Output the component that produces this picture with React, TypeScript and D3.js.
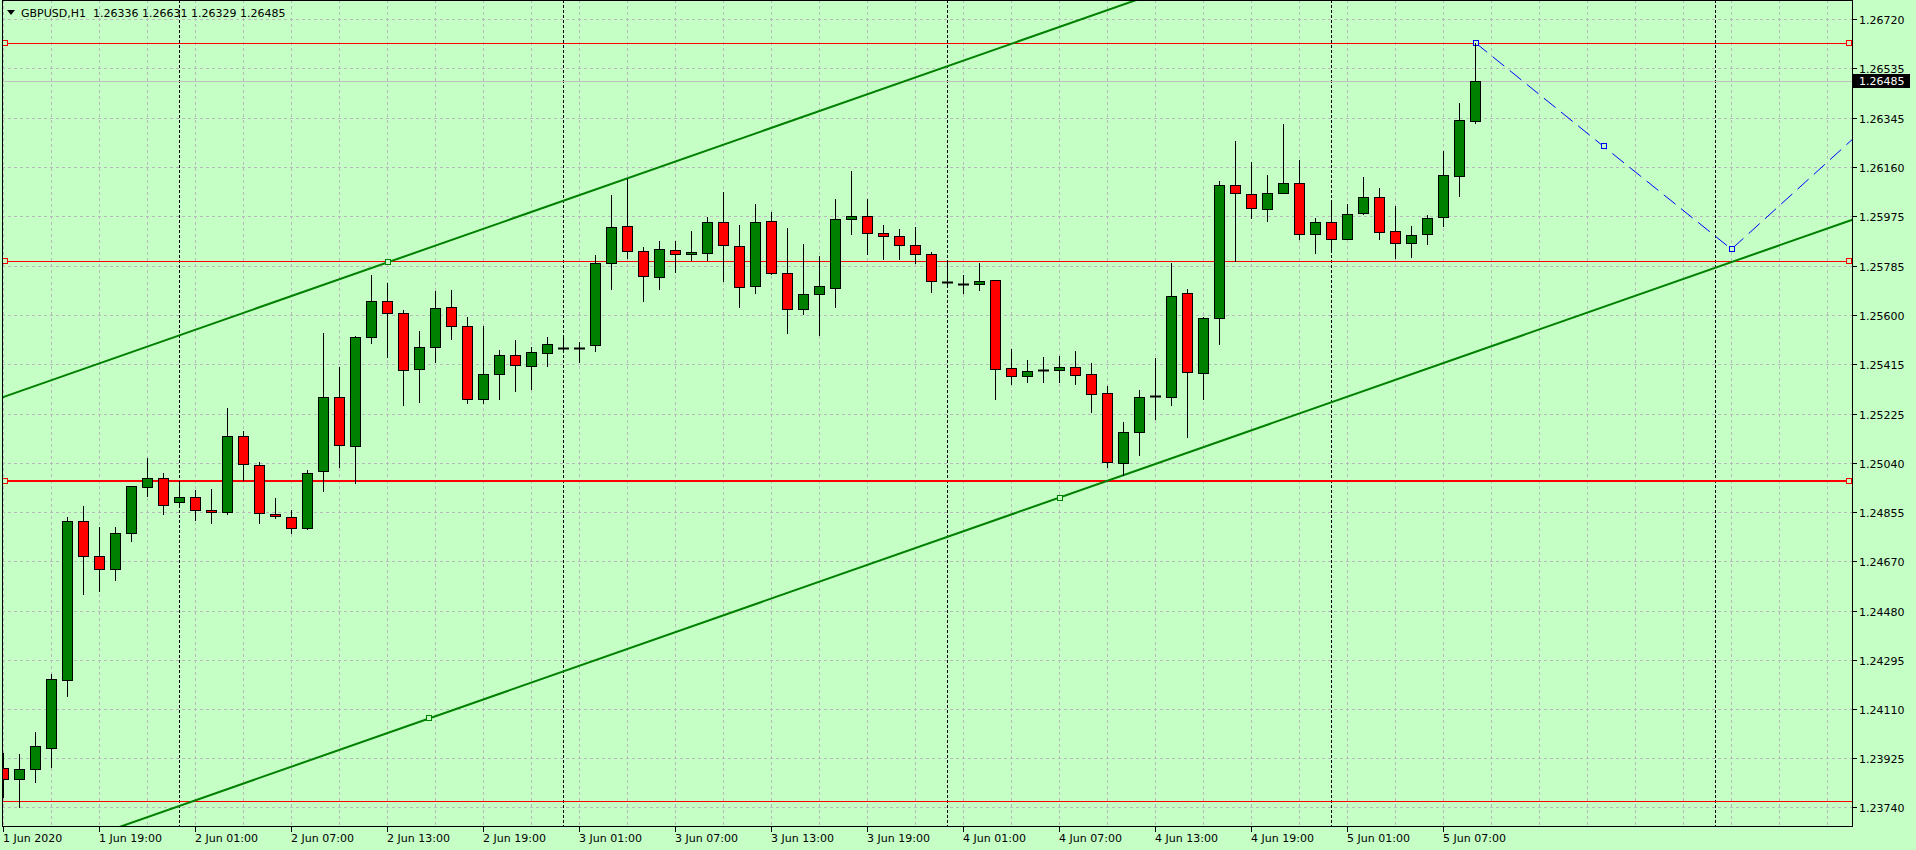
import React, { useEffect } from 'react';
import * as d3 from 'd3';

// ---------- data ----------
const barOpen = [
  1.23885, 1.23844, 1.23882, 1.23961, 1.24218, 1.24821, 1.24688, 1.24638, 1.24775, 1.24949,
  1.24983, 1.24892, 1.24911, 1.24862, 1.24854, 1.25142, 1.25032, 1.24847, 1.24835, 1.24794,
  1.25009, 1.25289, 1.25104, 1.25516, 1.25653, 1.25607, 1.25395, 1.25479, 1.25630, 1.25558,
  1.25282, 1.25376, 1.25448, 1.25407, 1.25456, 1.25476, 1.25477, 1.25486, 1.25797, 1.25937,
  1.25842, 1.25744, 1.25846, 1.25831, 1.25834, 1.25952, 1.25861, 1.25710, 1.25956, 1.25759,
  1.25622, 1.25679, 1.25702, 1.25963, 1.25974, 1.25910, 1.25899, 1.25865, 1.25831, 1.25726,
  1.25719, 1.25717, 1.25732, 1.25399, 1.25369, 1.25392, 1.25392, 1.25403, 1.25376, 1.25305,
  1.25040, 1.25157, 1.25293, 1.25289, 1.25683, 1.25380, 1.25588, 1.26092, 1.26058, 1.26001,
  1.26061, 1.26099, 1.25906, 1.25952, 1.25887, 1.25986, 1.26046, 1.25918, 1.25872, 1.25906,
  1.25971, 1.26126, 1.26336,
];
const barHigh = [
  1.23942, 1.23939, 1.24023, 1.24241, 1.24835, 1.24878, 1.24799, 1.24799, 1.24955, 1.25060,
  1.25003, 1.24973, 1.24939, 1.24942, 1.25249, 1.25162, 1.25043, 1.24907, 1.24862, 1.25013,
  1.25533, 1.25403, 1.25521, 1.25752, 1.25722, 1.25620, 1.25540, 1.25692, 1.25696, 1.25592,
  1.25558, 1.25467, 1.25505, 1.25479, 1.25516, 1.25518, 1.25498, 1.25827, 1.26055, 1.26114,
  1.25857, 1.25880, 1.25880, 1.25918, 1.25971, 1.26065, 1.25940, 1.26020, 1.25990, 1.25929,
  1.25868, 1.25823, 1.26039, 1.26145, 1.26039, 1.25940, 1.25925, 1.25933, 1.25838, 1.25808,
  1.25752, 1.25798, 1.25732, 1.25472, 1.25431, 1.25442, 1.25446, 1.25465, 1.25419, 1.25331,
  1.25196, 1.25317, 1.25438, 1.25798, 1.25698, 1.25592, 1.26107, 1.26259, 1.26179, 1.26130,
  1.26323, 1.26186, 1.25967, 1.26035, 1.26020, 1.26122, 1.26080, 1.26012, 1.25937, 1.25978,
  1.26220, 1.26402, 1.26631,
];
const barLow = [
  1.23778, 1.23740, 1.23835, 1.23891, 1.24160, 1.24546, 1.24556, 1.24599, 1.24747, 1.24917,
  1.24849, 1.24882, 1.24825, 1.24815, 1.24847, 1.24976, 1.24812, 1.24831, 1.24774, 1.24790,
  1.24936, 1.25027, 1.24966, 1.25496, 1.25442, 1.25261, 1.25273, 1.25424, 1.25511, 1.25267,
  1.25267, 1.25282, 1.25312, 1.25320, 1.25407, 1.25468, 1.25424, 1.25466, 1.25700, 1.25818,
  1.25655, 1.25698, 1.25764, 1.25808, 1.25808, 1.25731, 1.25630, 1.25685, 1.25755, 1.25532,
  1.25604, 1.25524, 1.25630, 1.25906, 1.25831, 1.25812, 1.25812, 1.25797, 1.25687, 1.25711,
  1.25683, 1.25694, 1.25284, 1.25341, 1.25348, 1.25348, 1.25348, 1.25341, 1.25235, 1.25027,
  1.24994, 1.25072, 1.25206, 1.25261, 1.25138, 1.25284, 1.25490, 1.25805, 1.25969, 1.25956,
  1.26061, 1.25890, 1.25837, 1.25844, 1.25887, 1.25982, 1.25890, 1.25818, 1.25822, 1.25868,
  1.25937, 1.26050, 1.26329,
];
const barClose = [
  1.23844, 1.23882, 1.23970, 1.24222, 1.24821, 1.24688, 1.24638, 1.24775, 1.24953, 1.24983,
  1.24881, 1.24911, 1.24862, 1.24854, 1.25142, 1.25036, 1.24850, 1.24839, 1.24794, 1.25002,
  1.25289, 1.25108, 1.25516, 1.25653, 1.25607, 1.25392, 1.25479, 1.25626, 1.25558, 1.25282,
  1.25376, 1.25448, 1.25411, 1.25460, 1.25490, 1.25476, 1.25477, 1.25797, 1.25933, 1.25842,
  1.25747, 1.25850, 1.25831, 1.25838, 1.25952, 1.25865, 1.25706, 1.25952, 1.25759, 1.25622,
  1.25679, 1.25710, 1.25963, 1.25974, 1.25910, 1.25899, 1.25865, 1.25831, 1.25728, 1.25726,
  1.25719, 1.25728, 1.25395, 1.25369, 1.25388, 1.25392, 1.25403, 1.25373, 1.25301, 1.25043,
  1.25157, 1.25289, 1.25293, 1.25672, 1.25384, 1.25588, 1.26092, 1.26061, 1.26005, 1.26061,
  1.26099, 1.25906, 1.25952, 1.25887, 1.25982, 1.26046, 1.25914, 1.25872, 1.25903, 1.25967,
  1.26130, 1.26338, 1.26485,
];

const priceTicks = [
  1.26720, 1.26535, 1.26345, 1.26160, 1.25975, 1.25785, 1.25600, 1.25415, 1.25225,
  1.25040, 1.24855, 1.24670, 1.24480, 1.24295, 1.24110, 1.23925, 1.23740,
];
const timeTickBars = [0, 6, 12, 18, 24, 30, 36, 42, 48, 54, 60, 66, 72, 78, 84, 90];
const timeTickLabels = [
  '1 Jun 2020', '1 Jun 19:00', '2 Jun 01:00', '2 Jun 07:00', '2 Jun 13:00', '2 Jun 19:00',
  '3 Jun 01:00', '3 Jun 07:00', '3 Jun 13:00', '3 Jun 19:00', '4 Jun 01:00', '4 Jun 07:00',
  '4 Jun 13:00', '4 Jun 19:00', '5 Jun 01:00', '5 Jun 07:00',
];
const daySeparatorBars = [11, 35, 59, 83, 107];

const levelPrices = [1.26631, 1.25804, 1.24972, 1.23762];
const levelSelected = [true, true, true, false];

const lowerTrendBars = [26.6, 66];
const lowerTrendPrices = [1.24074, 1.24910];
const upperTrendBars = [24, 63.4];
const upperTrendPrices = [1.25800, 1.26636];
const lowerAnchorsShown = [true, true];
const upperAnchorsShown = [true, false];

const zigzagBars = [92, 100, 108, 116];
const zigzagPrices = [1.26631, 1.26239, 1.25850, 1.26290];

const symbolName = 'GBPUSD,H1';
const bidPrice = 1.26485;

// ---------- styling ----------
const W = 1916;
const H = 850;
const PL = 2, PR = 1852, PT = 0, PB = 826;
const BG = '#c6ffc6';
const GRID = '#b9b9bd';
const FONT = 'DejaVu Sans';
const FS = 11;

export default function App() {
  useEffect(() => {
    document.body.style.margin = '0';
  }, []);

  const x = d3.scaleLinear().domain([0, 1]).range([3.5, 19.5]);
  const y = d3.scaleLinear().domain([1.2374, 1.2672]).range([806.7, 19.3]);
  const cy = (p: number) => Math.round(y(p)) + 0.5;

  const gridXs: number[] = d3.range(0, 120, 3).map((b) => x(b)).filter((v) => v > PL && v < PR);

  const trendPath = (bars: number[], prices: number[]) => {
    const slope = (prices[1] - prices[0]) / (bars[1] - bars[0]);
    const b0 = x.invert(PL - 5);
    const b1 = x.invert(PR + 5);
    const p0 = prices[0] + (b0 - bars[0]) * slope;
    const p1 = prices[0] + (b1 - bars[0]) * slope;
    return `M${x(b0)},${y(p0)}L${x(b1)},${y(p1)}`;
  };

  const zigLine = d3
    .line<number>()
    .x((_, i) => x(zigzagBars[i]))
    .y((_, i) => y(zigzagPrices[i]))(zigzagPrices);

  const square = (cxv: number, cyv: number, color: string, key: string) => (
    <rect
      key={key}
      x={Math.round(cxv) - 2.5}
      y={Math.round(cyv) - 2.5}
      width={5}
      height={5}
      fill={BG}
      stroke={color}
      strokeWidth={1}
    />
  );

  const candles = barOpen.map((o, i) => {
    const c = barClose[i];
    const cx = x(i);
    const yo = Math.round(y(o));
    const yc = Math.round(y(c));
    const top = Math.min(yo, yc);
    const bot = Math.max(yo, yc);
    const wick = (
      <line
        key={`w${i}`}
        x1={cx}
        x2={cx}
        y1={Math.round(y(barHigh[i]))}
        y2={Math.round(y(barLow[i])) + 1}
        stroke="#000"
        strokeWidth={1}
      />
    );
    let body;
    if (bot - top < 1) {
      body = (
        <line
          key={`b${i}`}
          x1={cx - 5.5}
          x2={cx + 5.5}
          y1={top + 0.5}
          y2={top + 0.5}
          stroke="#000"
          strokeWidth={2}
        />
      );
    } else {
      body = (
        <rect
          key={`b${i}`}
          x={cx - 5}
          y={top + 0.5}
          width={10}
          height={bot - top}
          fill={c >= o ? '#008000' : '#ff0000'}
          stroke="#000"
          strokeWidth={1}
        />
      );
    }
    return (
      <g key={`c${i}`}>
        {wick}
        {body}
      </g>
    );
  });

  const levelWidth = (i: number) => (i === 2 ? 2 : 1);

  return (
    <div style={{ position: 'absolute', left: 0, top: 0 }}>
      <svg width={W} height={H} style={{ display: 'block' }} fontFamily={FONT} fontSize={FS}>
        <defs>
          <clipPath id="plot">
            <rect x={PL} y={PT} width={PR - PL} height={PB - PT} />
          </clipPath>
        </defs>
        <rect x={0} y={0} width={W} height={H} fill={BG} />

        <g clipPath="url(#plot)">
          {/* grid */}
          {priceTicks.map((p, i) => (
            <line key={`gh${i}`} x1={PL} x2={PR} y1={cy(p)} y2={cy(p)} stroke={GRID} strokeDasharray="3,3" />
          ))}
          {gridXs.map((gx, i) => (
            <line key={`gv${i}`} x1={gx} x2={gx} y1={PT} y2={PB} stroke={GRID} strokeDasharray="3,3" />
          ))}
          {/* day separators */}
          {daySeparatorBars.map((b, i) => (
            <line key={`ds${i}`} x1={x(b)} x2={x(b)} y1={PT} y2={PB} stroke="#000" strokeDasharray="3,2" />
          ))}
          {/* bid line */}
          <line x1={PL} x2={PR} y1={cy(bidPrice)} y2={cy(bidPrice)} stroke="#c0c0c0" />

          {/* horizontal levels */}
          {levelPrices.map((p, i) => (
            <line
              key={`lv${i}`}
              x1={PL}
              x2={PR}
              y1={levelWidth(i) === 2 ? Math.round(y(p)) : cy(p)}
              y2={levelWidth(i) === 2 ? Math.round(y(p)) : cy(p)}
              stroke="#ff0000"
              strokeWidth={levelWidth(i)}
            />
          ))}
          {levelPrices.map((p, i) =>
            levelSelected[i]
              ? [square(PL + 3, y(p), '#ff0000', `sl${i}`), square(PR - 3, y(p), '#ff0000', `sr${i}`)]
              : null
          )}

          {/* trend lines */}
          <path d={trendPath(upperTrendBars, upperTrendPrices)} stroke="#008000" strokeWidth={2} fill="none" />
          <path d={trendPath(lowerTrendBars, lowerTrendPrices)} stroke="#008000" strokeWidth={2} fill="none" />
          {upperTrendBars.map((b, i) =>
            upperAnchorsShown[i] ? square(x(b), y(upperTrendPrices[i]), '#008000', `ua${i}`) : null
          )}
          {lowerTrendBars.map((b, i) =>
            lowerAnchorsShown[i] ? square(x(b), y(lowerTrendPrices[i]), '#008000', `la${i}`) : null
          )}

          {/* zigzag projection */}
          <path d={zigLine || ''} stroke="#0000ff" strokeWidth={1} fill="none" strokeDasharray="15,7" />
          {zigzagBars.slice(0, 3).map((b, i) => square(x(b), y(zigzagPrices[i]), '#0000ff', `zz${i}`))}

          {/* candles */}
          {candles}
        </g>

        {/* frame */}
        <line x1={PL + 0.5} x2={PL + 0.5} y1={PT} y2={PB + 1} stroke="#000" />
        <line x1={PL} x2={PR + 1} y1={PT + 0.5} y2={PT + 0.5} stroke="#000" />
        <line x1={PR + 0.5} x2={PR + 0.5} y1={PT} y2={PB + 1} stroke="#000" />
        <line x1={PL} x2={PR + 1} y1={PB + 0.5} y2={PB + 0.5} stroke="#000" />

        {/* price axis */}
        {priceTicks.map((p, i) => (
          <g key={`pt${i}`}>
            <line x1={PR + 1} x2={PR + 5} y1={cy(p)} y2={cy(p)} stroke="#000" />
            <text x={1859} y={cy(p) + 4} fill="#000">
              {p.toFixed(5)}
            </text>
          </g>
        ))}
        <rect x={1853} y={Math.round(y(bidPrice)) - 7} width={57} height={14} fill="#000" />
        <text x={1859} y={Math.round(y(bidPrice)) + 4} fill="#fff">
          {bidPrice.toFixed(5)}
        </text>

        {/* time axis */}
        {timeTickBars.map((b, i) => (
          <g key={`tt${i}`}>
            <line x1={x(b)} x2={x(b)} y1={PB + 1} y2={PB + 6} stroke="#000" />
            <text x={x(b) - 0.5} y={842} fill="#000">
              {timeTickLabels[i]}
            </text>
          </g>
        ))}

        {/* header */}
        <polygon points="7,10 15,10 11,15" fill="#000" />
        <text x={21} y={17} fill="#000" style={{ whiteSpace: 'pre' }} xmlSpace="preserve">
          {`${symbolName}  ${barOpen[92].toFixed(5)} ${barHigh[92].toFixed(5)} ${barLow[92].toFixed(5)} ${barClose[92].toFixed(5)}`}
        </text>
      </svg>
    </div>
  );
}
